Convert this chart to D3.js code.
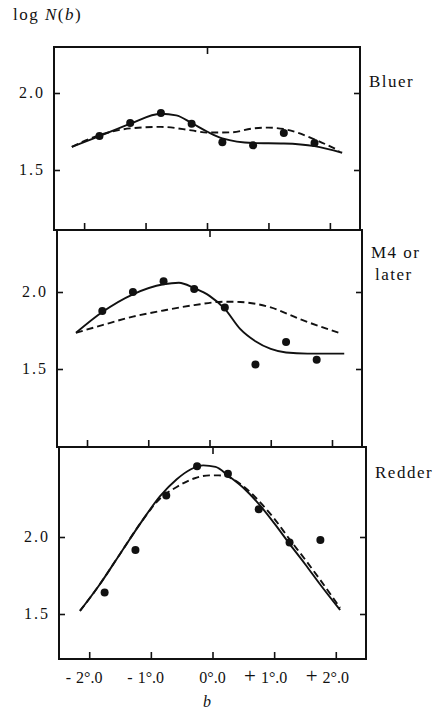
<!DOCTYPE html>
<html>
<head>
<meta charset="utf-8">
<script src="https://cdn.jsdelivr.net/npm/d3@7"></script>
<style>
body { margin: 0; background: #fff; }
svg text { font-family: "Liberation Serif", "DejaVu Serif", serif; fill: #111; }
</style>
</head>
<body>
<svg id="chart" width="434" height="717"></svg>
<script>
// log N(b) against latitude b, three colour groups, stacked panels


var bTicks = [-2, -1, 0, 1, 2];
var bTickSigns = ["-", "-", "", "+", "+"];
var bTickDigits = ["2\u00b0.0", "1\u00b0.0", "0\u00b0.0", "1\u00b0.0", "2\u00b0.0"];
var yTicks = [2.0, 1.5];
var yTickLabels = ["2.0", "1.5"];
var panelNames = [["Bluer"], ["M4 or", "later"], ["Redder"]];

// observed points
var dotB = [-1.75, -1.25, -0.75, -0.25, 0.25, 0.75, 1.25, 1.75];
var bluerDots = [1.72, 1.805, 1.87, 1.80, 1.68, 1.66, 1.74, 1.675];
var m4Dots = [1.877, 2.0, 2.07, 2.02, 1.90, 1.53, 1.675, 1.56];
var redderDots = [1.64, 1.915, 2.27, 2.46, 2.41, 2.18, 1.965, 1.98];

// fitted curves as [b, log N]
var bluerSolid = [[-2.2, 1.65], [-1.75, 1.72], [-1.25, 1.80], [-0.75, 1.865], [-0.5, 1.855],
    [-0.25, 1.805], [0, 1.75], [0.25, 1.705], [0.75, 1.675], [1.25, 1.672], [1.75, 1.655], [2.2, 1.612]];
var bluerDashed = [[-2.2, 1.65], [-1.75, 1.727], [-1.25, 1.77], [-0.75, 1.78], [-0.25, 1.757],
    [0, 1.743], [0.4, 1.745], [0.75, 1.77], [1.0, 1.775], [1.3, 1.762], [1.7, 1.707], [2.15, 1.625]];
var m4Solid = [[-2.18, 1.735], [-1.75, 1.87], [-1.25, 1.985], [-0.75, 2.05], [-0.5, 2.06],
    [-0.25, 2.025], [0, 1.975], [0.25, 1.89], [0.5, 1.76], [0.75, 1.68], [1.0, 1.63],
    [1.25, 1.607], [1.6, 1.60], [2.2, 1.60]];
var m4Dashed = [[-2.18, 1.735], [-1.75, 1.785], [-1.25, 1.84], [-0.75, 1.88], [-0.25, 1.915],
    [0.25, 1.937], [0.5, 1.935], [1.0, 1.90], [1.5, 1.82], [2.15, 1.73]];
var redderSolid = [[-2.15, 1.52], [-1.85, 1.68], [-1.5, 1.89], [-1.15, 2.10], [-0.85, 2.265],
    [-0.58, 2.375], [-0.35, 2.44], [-0.15, 2.465], [0.05, 2.455], [0.25, 2.40], [0.5, 2.32],
    [0.75, 2.215], [1.0, 2.09], [1.25, 1.955], [1.5, 1.825], [1.75, 1.69], [2.07, 1.526]];
var redderDashed = [[-2.15, 1.52], [-1.85, 1.68], [-1.5, 1.89], [-1.15, 2.10], [-0.85, 2.25],
    [-0.58, 2.325], [-0.3, 2.38], [-0.05, 2.40], [0.1, 2.40], [0.25, 2.39], [0.5, 2.33],
    [0.75, 2.235], [1.0, 2.12], [1.25, 1.985], [1.5, 1.855], [1.75, 1.72], [2.07, 1.54]];

var series = [
    { dots: bluerDots, solid: bluerSolid, dashed: bluerDashed },
    { dots: m4Dots, solid: m4Solid, dashed: m4Dashed },
    { dots: redderDots, solid: redderSolid, dashed: redderDashed }
];

// panel boxes in page pixels (the scan is slightly skewed, so left edges drift)
var layout = [
    { left: 54, right: 360, top: 47, bottom: 230, yAt2: 93 },
    { left: 57, right: 362, top: 230, bottom: 447, yAt2: 292 },
    { left: 59, right: 366, top: 447, bottom: 659, yAt2: 537 }
];
var pxPerUnit = 154;

var svg = d3.select("#chart");

var line = d3.line()
    .x(function(d) { return d[0]; })
    .y(function(d) { return d[1]; })
    .curve(d3.curveMonotoneX);

var lastX = null;

layout.forEach(function(p, i) {
    var x = d3.scaleLinear().domain([-2.49, 2.49]).range([p.left, p.right]);
    var yLo = 2 - (p.bottom - p.yAt2) / pxPerUnit;
    var yHi = 2 + (p.yAt2 - p.top) / pxPerUnit;
    var y = d3.scaleLinear().domain([yLo, yHi]).range([p.bottom, p.top]);
    var s = series[i];
    var g = svg.append("g").attr("class", "panel");

    // inward ticks on all four sides
    g.append("g").attr("transform", "translate(0," + p.bottom + ")")
        .call(d3.axisBottom(x).tickValues(bTicks).tickSize(-7).tickFormat(""));
    g.append("g").attr("transform", "translate(0," + p.top + ")")
        .call(d3.axisTop(x).tickValues([0]).tickSize(-7).tickFormat(""));
    g.append("g").attr("transform", "translate(" + p.left + ",0)")
        .call(d3.axisLeft(y).tickValues(yTicks).tickSize(-6).tickFormat(""));
    g.append("g").attr("transform", "translate(" + p.right + ",0)")
        .call(d3.axisRight(y).tickValues(yTicks).tickSize(-6).tickFormat(""));
    g.selectAll(".domain").remove();
    g.selectAll(".tick line").attr("stroke", "#111").attr("stroke-width", 1.6);

    // frame
    g.append("rect")
        .attr("x", p.left).attr("y", p.top)
        .attr("width", p.right - p.left).attr("height", p.bottom - p.top)
        .attr("fill", "none").attr("stroke", "#111").attr("stroke-width", 2);

    // y labels
    yTicks.forEach(function(v, k) {
        g.append("text")
            .attr("x", p.left - 9).attr("y", y(v)).attr("dy", "0.33em")
            .attr("text-anchor", "end")
            .style("font-size", "16px").style("letter-spacing", "2px")
            .text(yTickLabels[k]);
    });

    // curves
    var toPx = function(d) { return [x(d[0]), y(d[1])]; };
    g.append("path").attr("d", line(s.dashed.map(toPx)))
        .attr("fill", "none").attr("stroke", "#111").attr("stroke-width", 1.9)
        .attr("stroke-dasharray", "7,4");
    g.append("path").attr("d", line(s.solid.map(toPx)))
        .attr("fill", "none").attr("stroke", "#111").attr("stroke-width", 1.9);

    // dots
    g.selectAll("circle.dot").data(s.dots).enter().append("circle")
        .attr("class", "dot")
        .attr("cx", function(d, k) { return x(dotB[k]); })
        .attr("cy", function(d) { return y(d); })
        .attr("r", 4)
        .attr("fill", "#111");

    // panel name on the right
    panelNames[i].forEach(function(t, k) {
        g.append("text")
            .attr("x", p.right + 9 + (k > 0 ? 4 : 0))
            .attr("y", p.top + (i === 0 ? 40 : (i === 1 ? 28 : 31)) + k * 22)
            .style("font-size", "17px").style("letter-spacing", "1.5px")
            .text(t);
    });

    lastX = x;
});

// x tick labels under the bottom panel: digits centred on the tick, sign hangs left
bTicks.forEach(function(v, i) {
    var cx = lastX(v);
    var t = svg.append("text")
        .attr("y", 683)
        .style("font-size", "16px");
    var sign = t.append("tspan")
        .style("font-size", bTickSigns[i] === "+" ? "21px" : "16px")
        .text(bTickSigns[i]);
    var gap = bTickSigns[i] ? 5 : 0;
    var dig = t.append("tspan").attr("dx", gap).text(bTickDigits[i]);
    var signW = bTickSigns[i] ? sign.node().getComputedTextLength() + gap : 0;
    var digW = dig.node().getComputedTextLength();
    t.attr("x", cx - signW - digW / 2);
});

// axis titles
svg.append("text")
    .attr("x", 207).attr("y", 707)
    .attr("text-anchor", "middle")
    .style("font-size", "16px").style("font-style", "italic")
    .text("b");

var title = svg.append("text")
    .attr("x", 13).attr("y", 20)
    .style("font-size", "17px").style("letter-spacing", "1.5px");
title.append("tspan").text("log ");
title.append("tspan").style("font-style", "italic").text("N");
title.append("tspan").text("(");
title.append("tspan").style("font-style", "italic").text("b");
title.append("tspan").text(")");
</script>
</body>
</html>
